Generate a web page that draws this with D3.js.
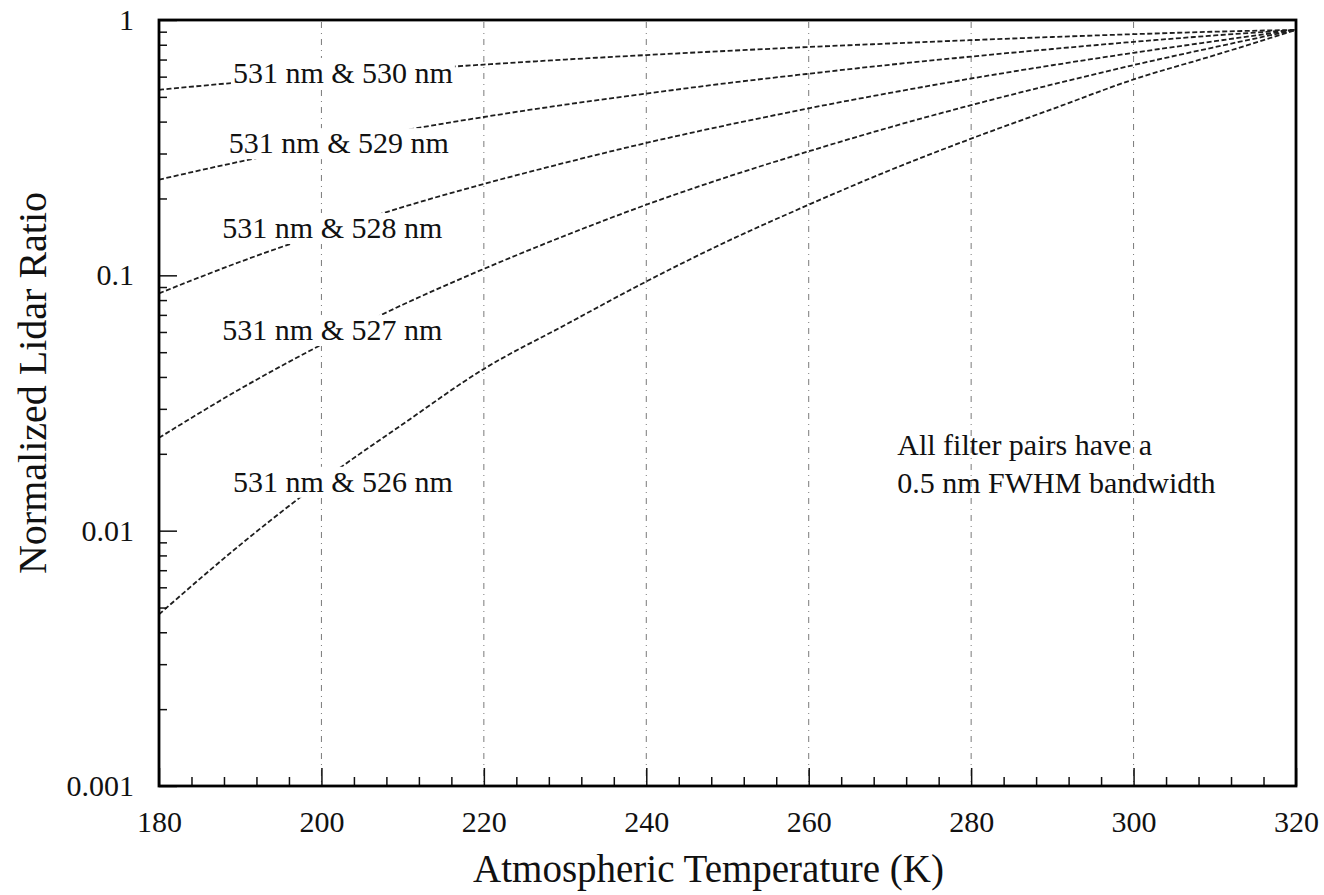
<!DOCTYPE html>
<html>
<head>
<meta charset="utf-8">
<script src="https://cdn.jsdelivr.net/npm/d3@7"></script>
<style>
  html, body { margin: 0; padding: 0; background: #fff; }
  svg { display: block; }
  text { font-family: "Liberation Serif", "Times New Roman", Times, serif; fill: #111; }
</style>
</head>
<body>
<svg id="chart" width="1324" height="895"></svg>
<script>
// Temperatures (K) at which each ratio curve is tabulated
const temperatures = [180, 190, 200, 210, 220, 230, 240, 250, 260, 270, 280, 290, 300, 310, 320];

// Normalized lidar ratio for each filter pair
const ratio530 = [0.533, 0.570, 0.604, 0.637, 0.669, 0.700, 0.729, 0.757, 0.784, 0.809, 0.834, 0.858, 0.880, 0.900, 0.915];
const ratio529 = [0.237, 0.279, 0.323, 0.369, 0.417, 0.466, 0.515, 0.566, 0.616, 0.668, 0.719, 0.770, 0.821, 0.870, 0.915];
const ratio528 = [0.085, 0.113, 0.146, 0.185, 0.228, 0.276, 0.330, 0.388, 0.451, 0.518, 0.590, 0.665, 0.744, 0.826, 0.915];
const ratio527 = [0.0231, 0.0359, 0.0535, 0.0767, 0.106, 0.143, 0.189, 0.243, 0.306, 0.380, 0.464, 0.559, 0.666, 0.783, 0.915];
const ratio526 = [0.0047, 0.0088, 0.0156, 0.0261, 0.043, 0.0639, 0.0946, 0.136, 0.189, 0.258, 0.343, 0.448, 0.585, 0.728, 0.915];

const seriesNames = ["531 nm & 530 nm", "531 nm & 529 nm", "531 nm & 528 nm", "531 nm & 527 nm", "531 nm & 526 nm"];
const seriesValues = [ratio530, ratio529, ratio528, ratio527, ratio526];

// Axis ticks
const xMajorTicks = [180, 200, 220, 240, 260, 280, 300, 320];
const xGridTicks = [200, 220, 240, 260, 280, 300];
const yMajorTicks = [0.001, 0.01, 0.1, 1];
const yTickLabels = ["0.001", "0.01", "0.1", "1"];

const xTitle = "Atmospheric Temperature (K)";
const yTitle = "Normalized Lidar Ratio";
const noteLines = ["All filter pairs have a", "0.5 nm FWHM bandwidth"];

// Layout: curve label anchors (left edge, baseline) in data units
const labelAnchors = [
  [189.1, 0.567],
  [188.6, 0.301],
  [187.8, 0.140],
  [187.8, 0.0558],
  [189.1, 0.0142]
];
const noteAnchor = [270.9, 0.0198];

const svg = d3.select("#chart");
const W = 1324, H = 895;
const plot = { left: 159, top: 20, right: 1296, bottom: 786 };

svg.append("rect").attr("width", W).attr("height", H).attr("fill", "#fff");

const x = d3.scaleLinear().domain([180, 320]).range([plot.left, plot.right]);
const y = d3.scaleLog().domain([0.001, 1]).range([plot.bottom, plot.top]);

// Vertical dash-dot grid lines at the major temperatures
svg.append("g")
  .selectAll("line")
  .data(xGridTicks)
  .join("line")
  .attr("x1", d => x(d)).attr("x2", d => x(d))
  .attr("y1", plot.top + 2).attr("y2", plot.bottom - 2)
  .attr("stroke", "#7a7a7a")
  .attr("stroke-width", 1)
  .attr("stroke-dasharray", "6,5,1,5");

// Ratio curves
const line = d3.line()
  .x(d => x(d[0]))
  .y(d => y(d[1]))
  .curve(d3.curveMonotoneX);

svg.append("g")
  .selectAll("path")
  .data(seriesValues)
  .join("path")
  .attr("d", vals => line(temperatures.map((t, i) => [t, vals[i]])))
  .attr("fill", "none")
  .attr("stroke", "#1e1e1e")
  .attr("stroke-width", 1.8)
  .attr("stroke-dasharray", "5,2.5");

// Curve labels with a white backing that breaks the curve underneath
const labelG = svg.append("g");
seriesNames.forEach((name, i) => {
  const g = labelG.append("g");
  const t = g.append("text")
    .attr("x", x(labelAnchors[i][0]))
    .attr("y", y(labelAnchors[i][1]))
    .attr("font-size", 30)
    .text(name);
  const bb = t.node().getBBox();
  g.insert("rect", "text")
    .attr("x", bb.x - 2).attr("y", bb.y + 2)
    .attr("width", bb.width + 4).attr("height", bb.height - 2)
    .attr("fill", "#fff");
});

// Note text
svg.append("g")
  .selectAll("text")
  .data(noteLines)
  .join("text")
  .attr("x", x(noteAnchor[0]))
  .attr("y", (d, i) => y(noteAnchor[1]) + i * 38)
  .attr("font-size", 30)
  .text(d => d);

// Bottom axis: major and minor ticks pointing into the plot
const xAxisG = svg.append("g").attr("transform", `translate(0,${plot.bottom})`);
xAxisG.append("g")
  .call(d3.axisBottom(x).tickValues(xMajorTicks).tickSize(-18).tickPadding(25).tickFormat(d3.format("d")))
  .call(g => g.select(".domain").remove())
  .call(g => g.selectAll("text").attr("font-size", 30).attr("font-family", null))
  .call(g => g.selectAll("line").attr("stroke", "#111").attr("stroke-width", 1.5));
xAxisG.append("g")
  .call(d3.axisBottom(x).tickValues(d3.range(184, 320, 4).filter(v => v % 20 !== 0)).tickSize(-9).tickFormat(""))
  .call(g => g.select(".domain").remove())
  .call(g => g.selectAll("line").attr("stroke", "#111").attr("stroke-width", 1.5));

// Left axis: decade ticks plus log minor ticks
const yMinor = [];
[0.001, 0.01, 0.1].forEach(dec => { for (let k = 2; k <= 9; k++) yMinor.push(dec * k); });
const yAxisG = svg.append("g").attr("transform", `translate(${plot.left},0)`);
yAxisG.append("g")
  .call(d3.axisLeft(y).tickValues(yMajorTicks).tickSize(-18).tickPadding(25)
    .tickFormat((d, i) => yTickLabels[i]))
  .call(g => g.select(".domain").remove())
  .call(g => g.selectAll("text").attr("font-size", 30).attr("font-family", null))
  .call(g => g.selectAll("line").attr("stroke", "#111").attr("stroke-width", 1.5));
yAxisG.append("g")
  .call(d3.axisLeft(y).tickValues(yMinor).tickSize(-8).tickFormat(""))
  .call(g => g.select(".domain").remove())
  .call(g => g.selectAll("line").attr("stroke", "#111").attr("stroke-width", 1.5));

// Plot frame
svg.append("rect")
  .attr("x", plot.left).attr("y", plot.top)
  .attr("width", plot.right - plot.left).attr("height", plot.bottom - plot.top)
  .attr("fill", "none")
  .attr("stroke", "#000")
  .attr("stroke-width", 2.8);

// Axis titles
svg.append("text")
  .attr("x", (plot.left + plot.right) / 2 - 19)
  .attr("y", 882)
  .attr("text-anchor", "middle")
  .attr("font-size", 39)
  .text(xTitle);

svg.append("text")
  .attr("transform", `translate(46,${(plot.top + plot.bottom) / 2 - 20}) rotate(-90)`)
  .attr("text-anchor", "middle")
  .attr("font-size", 40)
  .text(yTitle);
</script>
</body>
</html>
